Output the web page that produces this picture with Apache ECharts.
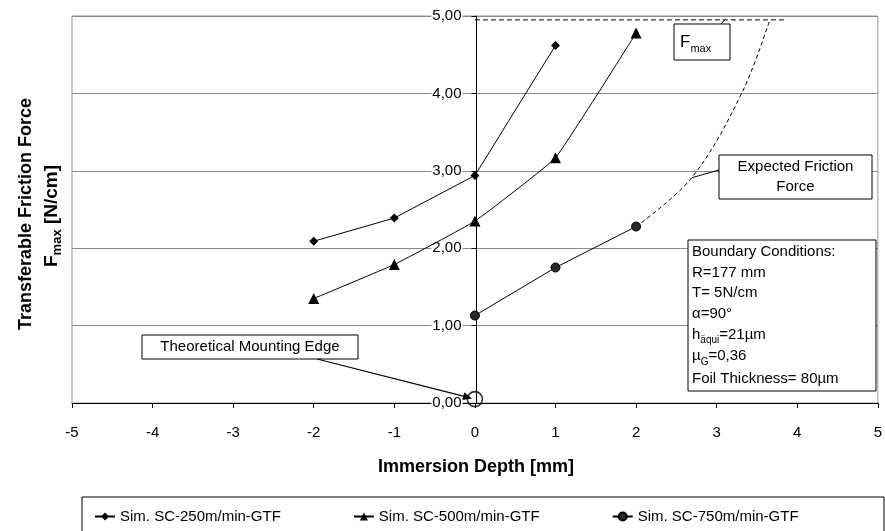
<!DOCTYPE html>
<html>
<head>
<meta charset="utf-8">
<script src="https://cdn.jsdelivr.net/npm/echarts@6/dist/echarts.min.js"></script>
<style>
html,body{margin:0;padding:0;background:#fff;}
#c{width:885px;height:531px;}
</style>
</head>
<body>
<div id="c"></div>
<script>
// ---- data ----
const xTicks = [-5,-4,-3,-2,-1,0,1,2,3,4,5];
const yTicks = [0,1,2,3,4,5];
const seriesNames = ['Sim. SC-250m/min-GTF','Sim. SC-500m/min-GTF','Sim. SC-750m/min-GTF'];
const sc250 = [[-2,2.09],[-1,2.39],[0,2.94],[1,4.62]];
const sc500 = [[-2,1.35],[-1,1.79],[0,2.35],[1,3.17],[2,4.78]];
const sc750 = [[0,1.13],[1,1.75],[2,2.28]];
const expectedCurve = [[2,2.28],[2.69,2.91],[3.31,4.0],[3.66,4.95]];
const fmaxLine = [[0,4.95],[3.87,4.95]];
const mountingEdge = [[0,0.05]];
const boundaryLines = [
  ['Boundary Conditions:'],
  ['R=177 mm'],
  ['T= 5N/cm'],
  ['α=90°'],
  ['h','äqui','=21µm'],
  ['µ','G','=0,36'],
  ['Foil Thickness= 80µm']
];

const FONT = '"Liberation Sans", Arial, sans-serif';
const chart = echarts.init(document.getElementById('c'), null, {renderer:'canvas'});
const GL = 72, GR = 4;
const yOffset = -((885 - GL - GR) / 2);

const option = {
  animation:false,
  backgroundColor:'#fff',
  textStyle:{fontFamily:FONT},
  grid:{left:GL,right:GR,top:16,bottom:128,show:true,borderColor:'#9a9a9a',borderWidth:1,containLabel:false},
  xAxis:{
    type:'value',min:-5,max:5,interval:1,
    axisLine:{onZero:true,lineStyle:{color:'#000',width:1}},
    axisTick:{show:true,length:5,lineStyle:{color:'#000'}},
    axisLabel:{color:'#000',fontSize:15,fontFamily:FONT,margin:22,showMaxLabel:true,showMinLabel:true},
    splitLine:{show:false}
  },
  yAxis:{
    type:'value',min:0,max:5,interval:1,
    offset:yOffset,
    axisLine:{onZero:false,lineStyle:{color:'#000',width:1}},
    axisTick:{show:true,length:5,lineStyle:{color:'#000'}},
    axisLabel:{color:'#000',fontSize:15,fontFamily:FONT,margin:14,
      backgroundColor:'#fff',padding:[0,1,0,1],
      formatter:v=>v.toFixed(2).replace('.',',')},
    splitLine:{show:true,lineStyle:{color:'#8a8a8a',width:1}}
  },
  legend:{
    data:seriesNames,
    left:94, top:509,
    itemGap:72, itemWidth:20, itemHeight:10,
    textStyle:{color:'#000',fontSize:15,fontFamily:FONT},
    padding:0
  },
  series:[
    {name:seriesNames[0],type:'line',data:sc250,symbol:'diamond',symbolSize:9,
      lineStyle:{color:'#000',width:1},itemStyle:{color:'#000'}},
    {name:seriesNames[1],type:'line',data:sc500,symbol:'triangle',symbolSize:11,smooth:0.1,
      lineStyle:{color:'#000',width:1},itemStyle:{color:'#000'}},
    {name:seriesNames[2],type:'line',data:sc750,symbol:'circle',symbolSize:9,
      lineStyle:{color:'#000',width:1},itemStyle:{color:'#2a2a2a',borderColor:'#000',borderWidth:1}},
    {name:'Expected',type:'line',data:expectedCurve,symbol:'none',smooth:0.35,
      lineStyle:{color:'#000',width:1,type:[4,3]}},
    {name:'Fmax',type:'line',data:fmaxLine,symbol:'none',
      lineStyle:{color:'#000',width:1,type:[5,3]}},
    {name:'Edge',type:'scatter',data:mountingEdge,symbol:'circle',symbolSize:15,
      itemStyle:{color:'rgba(0,0,0,0)',borderColor:'#000',borderWidth:1.6},z:5}
  ]
};
chart.setOption(option);

const px = p => chart.convertToPixel({gridIndex:0}, p);
const g = [];
function box(x,y,w,h){
  g.push({type:'rect',shape:{x:x,y:y,width:w,height:h},style:{fill:'#fff',stroke:'#000',lineWidth:1},z:10});
}
function txt(s,x,y,size,opt){
  opt = opt||{};
  g.push({type:'text',x:x,y:y,rotation:opt.rot||0,z:11,style:{text:s,fill:'#000',font:(opt.bold?'bold ':'')+size+'px '+FONT,
    textAlign:opt.align||'left',textVerticalAlign:opt.va||'middle'}});
}
function line(a,b,w){
  g.push({type:'line',shape:{x1:a[0],y1:a[1],x2:b[0],y2:b[1]},style:{stroke:'#000',lineWidth:w||1},z:9});
}

// Axis titles
txt('Immersion Depth [mm]',476,467,18,{bold:true,align:'center'});
g.push({type:'text',x:26,y:214,rotation:Math.PI/2,z:11,style:{text:'Transferable Friction Force',fill:'#000',
  font:'bold 18px '+FONT,textAlign:'center',textVerticalAlign:'middle'}});
g.push({type:'text',x:52,y:216,rotation:Math.PI/2,z:11,style:{
  text:'{a|F}{b|max}{a| [N/cm]}',textAlign:'center',textVerticalAlign:'middle',
  rich:{a:{font:'bold 19px '+FONT,fill:'#000',lineHeight:24,verticalAlign:'middle'},
        b:{font:'bold 13px '+FONT,fill:'#000',lineHeight:24,verticalAlign:'bottom'}}}});

// Fmax annotation
line([721,24], px([3.1,4.95]));
box(674,24,56,36);
g.push({type:'text',x:680,y:42,z:11,style:{text:'{a|F}{b|max}',textVerticalAlign:'middle',
  rich:{a:{font:'17px '+FONT,fill:'#000',lineHeight:24,verticalAlign:'middle'},
        b:{font:'11px '+FONT,fill:'#000',lineHeight:24,verticalAlign:'bottom'}}}});

// Expected friction force annotation
line([719,170], px(expectedCurve[1]));
box(719,155,153,44);
txt('Expected Friction',795.5,167,15,{align:'center'});
txt('Force',795.5,187,15,{align:'center'});

// Boundary conditions
box(688,240,188,151);
const bcY = [252,272.5,293,313.5,334.5,356,379];
boundaryLines.forEach((parts,i)=>{
  if(parts.length===1){ txt(parts[0],692,bcY[i],15); }
  else{
    g.push({type:'text',x:692,y:bcY[i],z:11,style:{text:'{a|'+parts[0]+'}{b|'+parts[1]+'}{a|'+parts[2]+'}',textVerticalAlign:'middle',
      rich:{a:{font:'15px '+FONT,fill:'#000',lineHeight:22,verticalAlign:'middle'},
            b:{font:'10px '+FONT,fill:'#000',lineHeight:22,verticalAlign:'bottom'}}}});
  }
});

// Theoretical mounting edge
box(142,335,216,24);
txt('Theoretical Mounting Edge',250,347,15,{align:'center'});
const p0=[317,359];
const p1=px(mountingEdge[0]);
const dx=p1[0]-p0[0], dy=p1[1]-p0[1], L=Math.hypot(dx,dy);
const ux=dx/L, uy=dy/L;
const tip=[p1[0]-ux*3, p1[1]-uy*3];
line(p0,[tip[0]-ux*6,tip[1]-uy*6],1.2);
g.push({type:'polygon',z:9,shape:{points:[tip,[tip[0]-ux*9-uy*4,tip[1]-uy*9+ux*4],[tip[0]-ux*9+uy*4,tip[1]-uy*9-ux*4]]},style:{fill:'#000'}});

// Legend frame
g.push({type:'rect',shape:{x:82,y:497,width:802,height:45},style:{fill:'none',stroke:'#000',lineWidth:1},z:1});

chart.setOption({graphic:g});
</script>
</body>
</html>
